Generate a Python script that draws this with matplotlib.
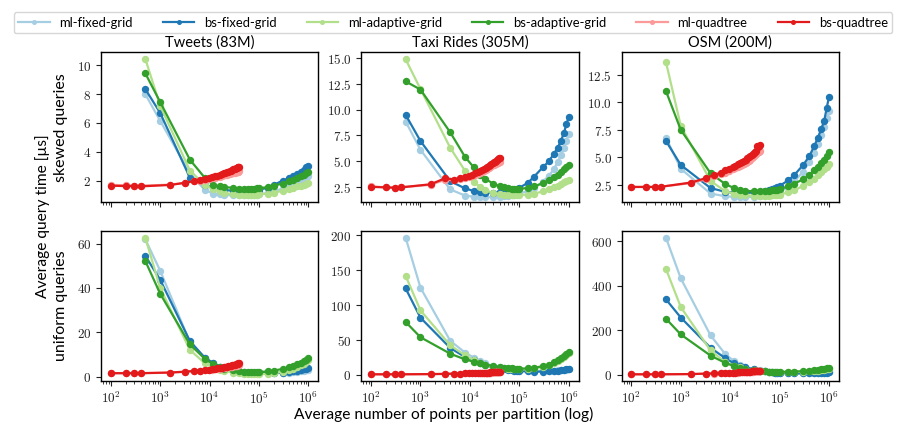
import numpy as np
import matplotlib
matplotlib.use('Agg')
import matplotlib.pyplot as plt
from matplotlib.ticker import FuncFormatter, LogLocator, NullFormatter

plt.rcParams['font.family'] = ['Lato', 'DejaVu Sans']
plt.rcParams['mathtext.fontset'] = 'cm'

# x values: grid partitionings and quadtree partitionings
grid_x = [500, 1000, 4000, 8000, 12000, 16000, 20000, 30000, 40000, 50000, 60000,
          70000, 80000, 90000, 100000, 150000, 200000, 300000, 400000, 500000,
          600000, 700000, 800000, 900000, 1000000]
quad_x = [100, 200, 300, 400, 1600, 3200, 4800, 6400, 8000, 9600, 11200, 12800,
          14400, 16000, 17600, 19200, 20800, 22400, 24000, 25600, 27200, 28800,
          30400, 32000, 33600, 35200, 36800, 38400, 40000]

series_names = ['ml-fixed-grid', 'bs-fixed-grid', 'ml-adaptive-grid',
                'bs-adaptive-grid', 'ml-quadtree', 'bs-quadtree']
colors = ['#a6cee3', '#1f78b4', '#b2df8a', '#33a02c', '#fb9a99', '#e31a1c']
datasets = ['Tweets (83M)', 'Taxi Rides (305M)', 'OSM (200M)']
row_labels = ['skewed queries', 'uniform queries']

# ---- Tweets, skewed
tw_s_mlfg = [8.0, 6.15, 2.5, 1.35, 1.1, 1.05, 1.0, 0.98, 0.97, 0.97, 0.98, 0.99, 1.0,
             1.02, 1.05, 1.15, 1.25, 1.45, 1.6, 1.75, 1.85, 1.95, 2.05, 2.2, 2.3]
tw_s_bsfg = [8.35, 6.7, 2.2, 1.7, 1.5, 1.4, 1.35, 1.3, 1.3, 1.3, 1.3, 1.32, 1.33,
             1.35, 1.38, 1.5, 1.7, 2.0, 2.15, 2.3, 2.45, 2.6, 2.75, 2.95, 3.0]
tw_s_mlag = [10.45, 7.2, 2.7, 1.7, 1.4, 1.25, 1.15, 1.05, 1.0, 1.0, 1.0, 1.0, 1.0,
             1.02, 1.05, 1.1, 1.15, 1.3, 1.4, 1.5, 1.6, 1.65, 1.72, 1.8, 1.85]
tw_s_bsag = [9.45, 7.45, 3.45, 2.2, 1.7, 1.6, 1.55, 1.5, 1.45, 1.45, 1.45, 1.45, 1.45,
             1.46, 1.47, 1.55, 1.65, 1.8, 1.95, 2.05, 2.2, 2.3, 2.4, 2.5, 2.6]
tw_s_mlq = [1.7, 1.68, 1.66, 1.65, 1.72, 1.85, 1.95, 2.0, 2.05, 2.1, 2.15, 2.2, 2.24,
            2.28, 2.32, 2.36, 2.39, 2.42, 2.45, 2.48, 2.5, 2.52, 2.54, 2.56, 2.58,
            2.6, 2.62, 2.63, 2.65]
tw_s_bsq = [1.65, 1.62, 1.62, 1.6, 1.7, 1.85, 1.97, 2.05, 2.12, 2.18, 2.24, 2.3, 2.35,
            2.4, 2.45, 2.5, 2.54, 2.58, 2.62, 2.66, 2.7, 2.74, 2.78, 2.82, 2.86,
            2.89, 2.92, 2.95, 2.97]

# ---- Taxi, skewed
tx_s_mlfg = [8.85, 6.1, 2.25, 1.65, 1.55, 1.5, 1.5, 1.5, 1.55, 1.6, 1.65, 1.7, 1.75,
             1.8, 1.85, 2.1, 2.4, 3.0, 3.6, 4.2, 4.9, 5.6, 6.3, 7.0, 7.6]
tx_s_bsfg = [9.5, 6.95, 3.05, 2.35, 2.1, 2.0, 1.95, 1.95, 2.0, 2.05, 2.1, 2.15, 2.2,
             2.3, 2.4, 2.9, 3.5, 4.4, 5.0, 5.7, 6.3, 7.0, 7.7, 8.6, 9.25]
tx_s_mlag = [14.9, 12.0, 6.3, 4.05, 3.0, 2.5, 2.2, 1.9, 1.8, 1.75, 1.7, 1.7, 1.7,
             1.7, 1.7, 1.75, 1.85, 2.05, 2.25, 2.45, 2.6, 2.8, 2.95, 3.1, 3.2]
tx_s_bsag = [12.75, 11.95, 7.8, 5.4, 4.4, 3.7, 3.3, 2.8, 2.55, 2.45, 2.35, 2.3, 2.3,
             2.3, 2.3, 2.4, 2.55, 2.85, 3.15, 3.45, 3.7, 3.95, 4.2, 4.45, 4.65]
tx_s_mlq = [2.55, 2.45, 2.42, 2.45, 2.7, 3.2, 3.15, 3.25, 3.35, 3.45, 3.55, 3.65, 3.75,
            3.85, 3.95, 4.05, 4.15, 4.25, 4.35, 4.45, 4.5, 4.6, 4.65, 4.7, 4.75,
            4.8, 4.85, 4.9, 4.95]
tx_s_bsq = [2.5, 2.45, 2.42, 2.45, 2.75, 3.35, 3.2, 3.35, 3.5, 3.6, 3.7, 3.8, 3.9,
            4.0, 4.1, 4.2, 4.3, 4.4, 4.5, 4.6, 4.7, 4.8, 4.88, 4.96, 5.04, 5.12,
            5.2, 5.28, 5.35]

# ---- OSM, skewed
osm_s_mlfg = [6.8, 3.95, 1.7, 1.45, 1.4, 1.35, 1.35, 1.4, 1.45, 1.5, 1.55, 1.6, 1.7,
              1.75, 1.85, 2.3, 2.8, 3.7, 4.6, 5.4, 6.2, 7.0, 7.8, 8.6, 9.2]
osm_s_bsfg = [6.5, 4.3, 2.2, 1.85, 1.78, 1.75, 1.75, 1.8, 1.85, 1.95, 2.0, 2.1, 2.2,
              2.3, 2.4, 2.9, 3.4, 4.3, 5.1, 6.0, 6.8, 7.6, 8.3, 9.5, 10.5]
osm_s_mlag = [13.7, 7.85, 2.85, 1.9, 1.7, 1.6, 1.55, 1.5, 1.5, 1.5, 1.5, 1.52, 1.55,
              1.58, 1.6, 1.8, 2.0, 2.4, 2.75, 3.05, 3.35, 3.65, 3.9, 4.15, 4.4]
osm_s_bsag = [11.05, 7.5, 3.55, 2.55, 2.2, 2.05, 1.95, 1.9, 1.9, 1.92, 1.95, 1.98, 2.0,
              2.05, 2.1, 2.35, 2.6, 3.0, 3.4, 3.8, 4.15, 4.5, 4.8, 5.15, 5.45]
osm_s_mlq = [2.3, 2.3, 2.3, 2.32, 2.65, 3.0, 3.3, 3.45, 3.6, 3.75, 3.9, 4.0, 4.1, 4.2,
             4.3, 4.4, 4.5, 4.6, 4.7, 4.8, 4.9, 5.0, 5.1, 5.2, 5.3, 5.35, 5.45, 5.5,
             5.6]
osm_s_bsq = [2.3, 2.3, 2.3, 2.32, 2.7, 3.1, 3.4, 3.6, 3.8, 3.95, 4.1, 4.25, 4.4, 4.5,
             4.6, 4.7, 4.8, 4.9, 5.0, 5.1, 5.2, 5.3, 5.4, 5.5, 5.6, 6.05, 5.9, 6.0,
             6.1]

# ---- Tweets, uniform
tw_u_mlfg = [62, 47.8, 15.5, 8.5, 6, 4.5, 3.5, 2.5, 2, 1.8, 1.6, 1.5, 1.4, 1.4, 1.4,
             1.4, 1.5, 1.6, 1.8, 1.9, 2.1, 2.3, 2.5, 2.8, 3.0]
tw_u_bsfg = [54.5, 43.7, 16, 8.5, 6, 4.5, 3.5, 2.7, 2.2, 2.0, 1.8, 1.7, 1.6, 1.5,
             1.5, 1.5, 1.6, 1.8, 2.0, 2.3, 2.6, 2.9, 3.2, 3.5, 3.8]
tw_u_mlag = [62.7, 40, 12, 6, 4, 3, 2.5, 1.8, 1.5, 1.3, 1.2, 1.1, 1.0, 1.0, 1.0, 1.2,
             1.5, 2.2, 2.9, 3.6, 4.3, 5.0, 5.8, 6.7, 7.5]
tw_u_bsag = [52.2, 37.4, 14.5, 8, 5.5, 4.2, 3.5, 2.8, 2.4, 2.2, 2.1, 2.0, 2.0, 2.0,
             2.0, 2.3, 2.7, 3.4, 4.1, 4.8, 5.5, 6.2, 6.9, 7.6, 8.3]
tw_u_mlq = [1.5, 1.5, 1.5, 1.5, 1.7, 2.1, 2.4, 2.6, 2.8, 3.0, 3.15, 3.3, 3.45, 3.6,
            3.75, 3.9, 4.0, 4.1, 4.2, 4.3, 4.4, 4.5, 4.6, 4.7, 4.8, 4.9, 5.0, 5.1,
            5.2]
tw_u_bsq = [1.5, 1.5, 1.5, 1.5, 1.8, 2.2, 2.5, 2.7, 2.9, 3.1, 3.3, 3.5, 3.65, 3.8,
            3.95, 4.1, 4.25, 4.4, 4.55, 4.7, 4.85, 5.0, 5.15, 5.3, 5.45, 5.6, 5.75,
            5.9, 6.0]

# ---- Taxi, uniform
tx_u_mlfg = [196.6, 125, 49, 32, 25, 20, 17, 13, 11, 10, 9, 8.5, 8, 7.5, 7.2, 6.5,
             6.2, 6.0, 6.0, 6.2, 6.5, 6.9, 7.3, 7.7, 8.0]
tx_u_bsfg = [124, 82, 38.7, 25.7, 21, 17, 14.5, 11, 9, 8, 7.2, 6.7, 6.2, 5.8, 5.5,
             5.0, 4.8, 4.8, 5.0, 5.5, 6.0, 6.7, 7.4, 8.2, 9.0]
tx_u_mlag = [142, 92.5, 42.6, 28, 21, 17, 15, 12, 10.5, 9.5, 9, 8.5, 8.2, 8.0, 8.0,
             8.5, 9.5, 11.5, 14, 17, 20, 23, 26, 29, 32]
tx_u_bsag = [76, 54, 30.5, 22.3, 19, 16.5, 15, 13, 11.5, 10.5, 10, 9.5, 9.2, 9.0, 9.0,
             9.5, 10.5, 12.5, 15, 18, 21, 24, 27.5, 30.5, 33.5]
tx_u_mlq = [1.0, 1.0, 1.0, 1.0, 1.2, 1.5, 1.8, 2.0, 2.2, 2.35, 2.5, 2.6, 2.7, 2.8,
            2.9, 3.0, 3.1, 3.2, 3.3, 3.4, 3.5, 3.6, 3.7, 3.8, 3.9, 4.0, 4.1, 4.2,
            4.3]
tx_u_bsq = [1.0, 1.0, 1.0, 1.0, 1.3, 1.6, 1.9, 2.1, 2.3, 2.5, 2.6, 2.75, 2.9, 3.0,
            3.1, 3.2, 3.3, 3.4, 3.5, 3.6, 3.7, 3.8, 3.9, 4.0, 4.1, 4.2, 4.3, 4.4,
            4.5]

# ---- OSM, uniform
osm_u_mlfg = [615, 432, 176, 91, 60, 45, 36, 25, 19, 15, 12, 10, 9, 8, 7, 5.5, 5, 5,
              5.5, 6, 6.5, 7.5, 8.5, 9.5, 10]
osm_u_bsfg = [338, 256, 120, 73, 50, 40, 33, 23, 18, 14, 11.5, 10, 9, 8, 7, 5.5, 5,
              4.8, 5, 5.5, 6, 7, 8, 9, 10]
osm_u_mlag = [475, 303, 108, 55, 40, 32, 27, 20, 16, 14, 12, 11, 10.5, 10, 10, 10.5,
              11, 12.5, 14, 15.5, 17, 19, 21, 23, 25]
osm_u_bsag = [251, 180, 85, 52, 38, 31, 26, 20, 17, 15, 13.5, 12.5, 12, 12, 12, 12.5,
              13.5, 15, 17, 19, 21, 23.5, 26, 28, 30]
osm_u_mlq = [1, 1, 1, 1, 1.8, 3.5, 4.5, 5.5, 6.4, 7.1, 7.7, 8.3, 8.9, 9.5, 10, 10.5,
             11, 11.5, 12, 12.5, 13, 13.5, 14, 14.5, 15, 15.5, 16, 16.5, 17]
osm_u_bsq = [1, 1, 1, 1, 2, 4, 5, 6, 7, 7.7, 8.3, 9, 9.6, 10.2, 10.8, 11.4, 12, 12.5,
             13, 13.5, 14, 14.5, 15, 15.5, 16, 16.5, 17, 17.5, 18]

panels = [
    [(tw_s_mlfg, tw_s_bsfg, tw_s_mlag, tw_s_bsag, tw_s_mlq, tw_s_bsq),
     (tx_s_mlfg, tx_s_bsfg, tx_s_mlag, tx_s_bsag, tx_s_mlq, tx_s_bsq),
     (osm_s_mlfg, osm_s_bsfg, osm_s_mlag, osm_s_bsag, osm_s_mlq, osm_s_bsq)],
    [(tw_u_mlfg, tw_u_bsfg, tw_u_mlag, tw_u_bsag, tw_u_mlq, tw_u_bsq),
     (tx_u_mlfg, tx_u_bsfg, tx_u_mlag, tx_u_bsag, tx_u_mlq, tx_u_bsq),
     (osm_u_mlfg, osm_u_bsfg, osm_u_mlag, osm_u_bsag, osm_u_mlq, osm_u_bsq)],
]

yticks = [[[2, 4, 6, 8, 10], [2.5, 5.0, 7.5, 10.0, 12.5, 15.0], [2.5, 5.0, 7.5, 10.0, 12.5]],
          [[0, 20, 40, 60], [0, 50, 100, 150, 200], [0, 200, 400, 600]]]
ydec = [[0, 1, 1], [0, 0, 0]]

fig, axes = plt.subplots(2, 3, figsize=(9.01, 4.23), dpi=100, sharex=True)
fig.subplots_adjust(left=0.112, right=0.931, top=0.877, bottom=0.099,
                    wspace=0.198, hspace=0.19)

for r in range(2):
    for c in range(3):
        ax = axes[r][c]
        vals = panels[r][c]
        for i in range(6):
            xs = grid_x if i < 4 else quad_x
            ax.plot(xs, vals[i], color=colors[i], marker='o', markersize=4.3,
                    linewidth=1.6, label=series_names[i])
        ax.set_xscale('log')
        ax.set_yticks(yticks[r][c])
        d = ydec[r][c]
        ax.yaxis.set_major_formatter(FuncFormatter(lambda v, p, d=d: r'$%.*f$' % (d, v)))
        ax.xaxis.set_major_locator(LogLocator(base=10, numticks=10))
        ax.xaxis.set_major_formatter(FuncFormatter(lambda v, p: r'$10^{%d}$' % round(np.log10(v))))
        ax.xaxis.set_minor_formatter(NullFormatter())
        ax.tick_params(which='both', direction='out', labelsize=9.5, colors='#222222')
        ax.tick_params(which='major', length=3.5)
        ax.tick_params(which='minor', length=2)
        ax.tick_params(axis='x', pad=3)
        for s in ax.spines.values():
            s.set_linewidth(1.0)
        if r == 0:
            ax.set_title(datasets[c], fontsize=10.5, pad=4)
        if c == 0:
            ax.set_ylabel(row_labels[r], fontsize=11.5, labelpad=6)

axes[0][1].set_ylim(1.0, 15.6)
axes[0][2].set_ylim(0.9, 14.6)

fig.text(0.047, 0.49, 'Average query time [µs]', rotation=90, ha='center',
         va='center', fontsize=11.2)
fig.text(0.492, 0.002, 'Average number of points per partition (log)', ha='center',
         va='bottom', fontsize=11.2)

handles, labels = axes[0][0].get_legend_handles_labels()
fig.legend(handles, labels, loc='upper left', bbox_to_anchor=(0.008, 0.987), ncol=6,
           fontsize=9.4, handlelength=2.4, handletextpad=0.75, columnspacing=2.3,
           markerscale=0.6, frameon=True, fancybox=True, edgecolor='#cccccc',
           borderpad=0.35)

fig.savefig('out.png', dpi=100)
